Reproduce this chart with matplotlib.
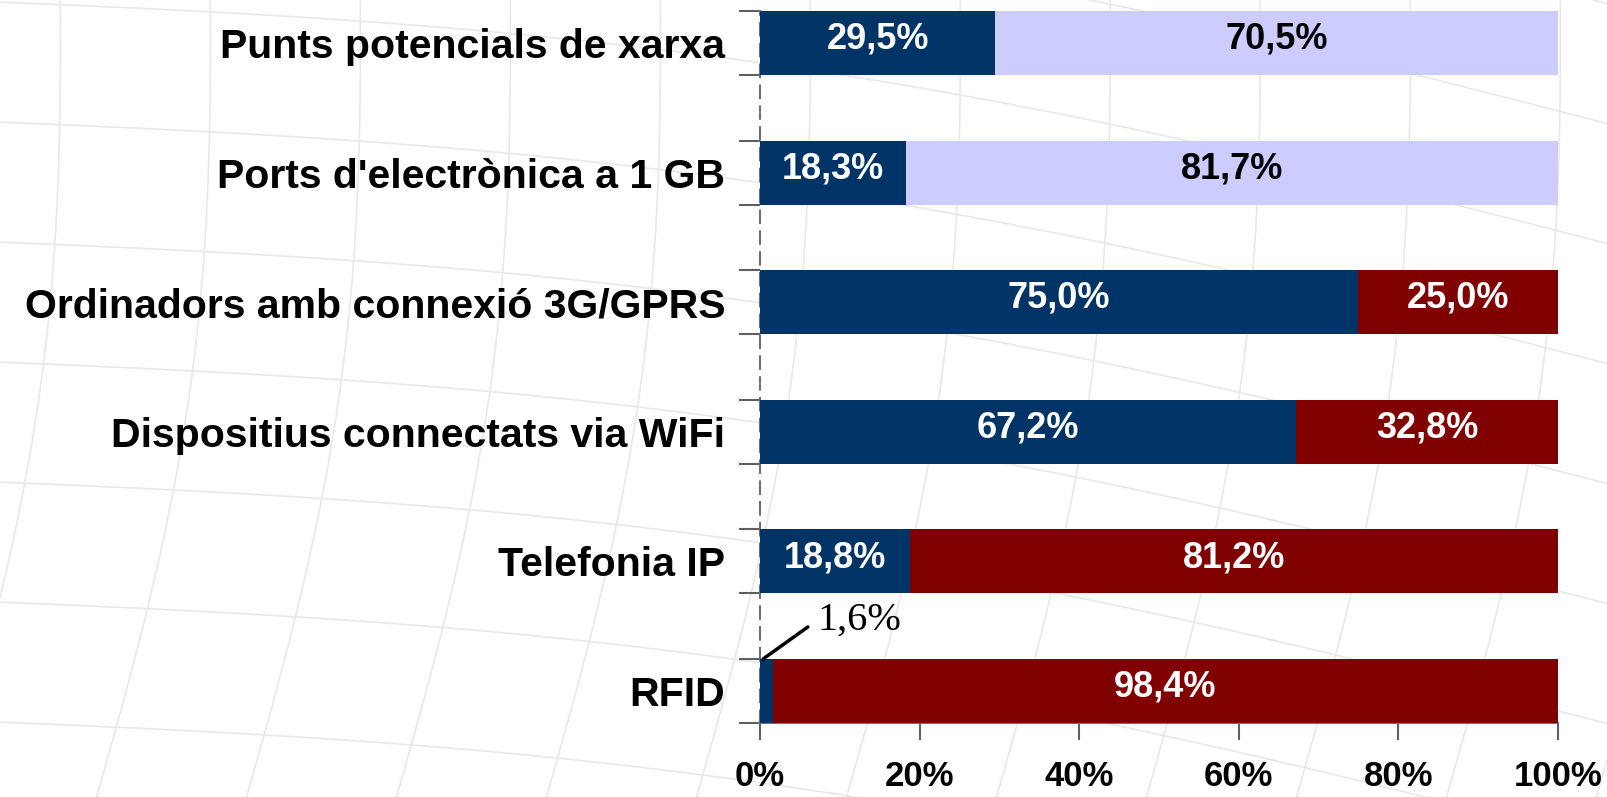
import numpy as np
import matplotlib.pyplot as plt

categories = ["Punts potencials de xarxa", "Ports d'electrònica a 1 GB",
              "Ordinadors amb connexió 3G/GPRS", "Dispositius connectats via WiFi",
              "Telefonia IP", "RFID"]
first = [29.5, 18.3, 75.0, 67.2, 18.8, 1.6]
second = [70.5, 81.7, 25.0, 32.8, 81.2, 98.4]
second_colors = ["#CCCCFF", "#CCCCFF", "#800000", "#800000", "#800000", "#800000"]
second_text = ["black", "black", "white", "white", "white", "white"]
xticks = [0, 20, 40, 60, 80, 100]

plt.rcParams['font.family'] = ['Liberation Sans', 'DejaVu Sans']

fig = plt.figure(figsize=(16.08, 7.97), dpi=100)

# faint globe-like background mesh
bg = fig.add_axes([0, 0, 1, 1], zorder=-5)
bg.set_xlim(0, 1608)
bg.set_ylim(797, 0)
bg.axis('off')
t = np.linspace(0, 1, 200)
for k in range(-3, 12):
    x0 = k * 150
    xs = x0 + 40 * np.sin(t * np.pi) + t * 120 - 60
    ys = 820 - t * 860
    bg.plot(xs, ys, color="#e8e8e8", lw=1.2)
for k in range(-2, 9):
    y0 = k * 120
    xs = -50 + t * 1720
    ys = y0 + t * 260 - 60 * np.sin(t * np.pi)
    bg.plot(xs, ys, color="#e8e8e8", lw=1.2)

ax = fig.add_axes([0.4726, 0.0929, 0.9689 - 0.4726, 0.986 - 0.0929])
ax.patch.set_alpha(0)

h = 0.494
y = np.arange(len(categories))
ax.barh(y, first, height=h, color="#003366", zorder=3)
ax.barh(y, second, left=first, height=h, color=second_colors, zorder=3)

ax.set_xlim(0, 100)
ax.set_ylim(len(categories) - 1 + h / 2, -h / 2)

for i in range(len(categories)):
    if first[i] > 5:
        ax.text(first[i] / 2, i - 0.03, f"{first[i]:.1f}%".replace('.', ','),
                ha='center', va='center', color='white', fontsize=26,
                fontweight='bold', zorder=4)
    ax.text(first[i] + second[i] / 2, i - 0.03, f"{second[i]:.1f}%".replace('.', ','),
            ha='center', va='center', color=second_text[i], fontsize=26,
            fontweight='bold', zorder=4)

# small value label with leader line
i_small = 5
ax.annotate(f"{first[i_small]:.1f}%".replace('.', ','),
            xy=(0.4, i_small - h / 2), xytext=(7.2, i_small - h / 2 - 0.3),
            fontsize=29, family='Liberation Serif', ha='left', va='center',
            arrowprops=dict(arrowstyle='-', color='black', lw=2.5,
                            shrinkA=6, shrinkB=0, relpos=(0, 0.5)),
            zorder=5)

ax.set_xticks(xticks)
ax.set_xticklabels([f"{v}%" for v in xticks], fontsize=25, fontweight='bold')
ax.tick_params(axis='x', length=12, width=1.5, color='#606060', pad=15)

edges = []
for i in y:
    edges += [i - h / 2, i + h / 2]
ax.set_yticks(edges)
ax.set_yticklabels([])
ax.set_yticks(y, minor=True)
ax.set_yticklabels(categories, minor=True, fontsize=29.5, fontweight='bold')
ax.tick_params(axis='y', which='major', length=15, width=1.5, color='#606060')
ax.tick_params(axis='y', which='minor', length=0, pad=25)

for s in ['top', 'right']:
    ax.spines[s].set_visible(False)
ax.spines['bottom'].set_color('#707070')
ax.spines['bottom'].set_linewidth(1.5)
ax.spines['left'].set_color('#707070')
ax.spines['left'].set_linewidth(1.5)
ax.spines['left'].set_linestyle((0, (6, 4)))

fig.savefig("out.png", dpi=100)
